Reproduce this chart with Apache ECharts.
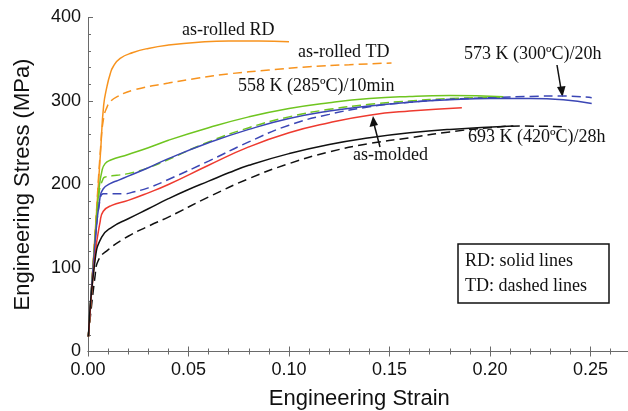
<!DOCTYPE html>
<html><head><meta charset="utf-8">
<script src="https://cdn.jsdelivr.net/npm/echarts@6/dist/echarts.min.js"></script>
<style>html,body{margin:0;padding:0;background:#fff}#c{width:628px;height:411px}</style>
</head><body><div id="c"></div>
<script>
// strain, stress (MPa)
var rolledRD = [[0.0002,18],[0.0035,140],[0.0063,241],[0.0078,295],[0.0095,318],[0.011,332],[0.0125,341],[0.016,351],[0.0224,358],[0.03,363],[0.04,367],[0.055,370.5],[0.07,372],[0.085,372],[0.1,371]];
var rolledTD = [[0.0002,18],[0.0035,140],[0.0063,245],[0.0078,280],[0.0095,293],[0.011,299],[0.0143,305],[0.0225,313],[0.04,321.5],[0.055,327.5],[0.07,332.5],[0.09,337],[0.11,341],[0.13,343.5],[0.151,345.5]];
var k558RD = [[0.0002,18],[0.0035,135],[0.0055,195],[0.007,217],[0.0085,225],[0.011,229],[0.02,236],[0.03,244],[0.04,253],[0.06,268],[0.08,281],[0.10,291],[0.12,298],[0.14,303],[0.16,305.5],[0.18,306.5],[0.2066,305]];
var k558TD = [[0.0002,18],[0.0035,135],[0.0055,190],[0.0075,207],[0.0085,209],[0.0143,211],[0.02,213],[0.03,220],[0.04,230],[0.06,251],[0.08,268],[0.10,281],[0.12,290],[0.14,296],[0.16,300],[0.18,303],[0.205,304.5]];
var k573RD = [[0.0002,18],[0.0035,130],[0.006,185],[0.0076,195],[0.011,201],[0.015,205],[0.02,210],[0.03,220],[0.04,231],[0.06,250],[0.08,266],[0.10,279],[0.12,288],[0.14,294],[0.16,298.5],[0.18,301.5],[0.20,303],[0.22,303],[0.2365,301.5],[0.2506,297]];
var k573TD = [[0.0002,18],[0.0035,130],[0.006,182],[0.0076,189],[0.012,189],[0.0184,189],[0.0225,191],[0.03,196],[0.04,206],[0.06,228],[0.08,251],[0.10,271],[0.12,284],[0.14,293],[0.16,298.5],[0.18,302],[0.20,304],[0.22,305.5],[0.2365,306],[0.2506,304]];
var moldedRD = [[0.0002,18],[0.0035,115],[0.006,155],[0.0076,168],[0.0118,175],[0.02,181],[0.03,190],[0.04,200],[0.06,223],[0.08,245],[0.10,262],[0.12,274],[0.14,283],[0.16,288],[0.186,292]];
var k693RD = [[0.0002,18],[0.0035,109],[0.0068,137],[0.012,149],[0.02,159],[0.03,171],[0.04,183],[0.05,194],[0.06,204],[0.07,214],[0.08,223],[0.10,237],[0.12,248],[0.14,256],[0.16,262],[0.18,266],[0.2116,270]];
var k693TD = [[0.0002,18],[0.0035,90],[0.0051,109],[0.0101,122],[0.02,138],[0.03,150],[0.04,161],[0.06,185],[0.08,207],[0.10,225],[0.12,239],[0.14,249],[0.16,256],[0.18,263],[0.20,268],[0.215,270],[0.2381,269]];
var xTicks = [0, 0.05, 0.10, 0.15, 0.20, 0.25];
var yTicks = [0, 100, 200, 300, 400];

var chart = echarts.init(document.getElementById('c'), null, {renderer:'canvas'});
var serif = 'Liberation Serif';
var sans = 'Liberation Sans';
function line(data, color, dashed){
  return {type:'line', data:data, symbol:'none', smooth:0.5,
    lineStyle:{color:color, width:1.5, type: dashed ? [9,5] : 'solid'}, z: dashed?3:4};
}
var axCol = '#6a6a6a';
var tickCommon = {
  axisTick:{show:true, inside:true, length:5, lineStyle:{color:axCol}},
  minorTick:{show:true, splitNumber:5, length:3, lineStyle:{color:axCol}}
};
var option = {
  animation:false,
  grid:{left:88, top:17.5, width:0.27*2010, height:334, containLabel:false, outerBoundsMode:'none'},
  xAxis:[Object.assign({
    type:'value', min:0, max:0.27, interval:0.05,
    axisLine:{show:true, onZero:false, lineStyle:{color:axCol,width:1}},
    splitLine:{show:false},
    axisLabel:{fontFamily:sans, fontSize:18, color:'#111', margin:10, showMaxLabel:false,
      formatter:function(v){ return xTicks.indexOf(+v.toFixed(2))>=0 ? v.toFixed(2) : ''; }},
    name:'Engineering Strain', nameLocation:'middle', nameGap:36,
    nameTextStyle:{fontFamily:sans, fontSize:22, color:'#111'}
  }, tickCommon), Object.assign({
    type:'value', position:'top', min:0, max:0.27, interval:0.05,
    axisLine:{show:true, lineStyle:{color:axCol,width:1}},
    splitLine:{show:false}, axisLabel:{show:false}
  }, tickCommon)],
  yAxis:Object.assign({
    type:'value', min:0, max:400, interval:100,
    axisLine:{show:true, lineStyle:{color:axCol,width:1}},
    splitLine:{show:false},
    axisLabel:{fontFamily:sans, fontSize:18, color:'#111', margin:7,
      formatter:function(v){ return yTicks.indexOf(v)>=0 ? String(v) : ''; }},
    name:'Engineering Stress (MPa)', nameLocation:'middle', nameGap:54,
    nameTextStyle:{fontFamily:sans, fontSize:22, color:'#111'}
  }, tickCommon),
  series:[
    line(rolledRD,'#f7931e',false), line(rolledTD,'#f7931e',true),
    line(k558RD,'#6fc520',false), line(k558TD,'#6fc520',true),
    line(k573RD,'#3b46b5',false), line(k573TD,'#3b46b5',true),
    line(moldedRD,'#ee3a2f',false),
    line(k693RD,'#111111',false), line(k693TD,'#111111',true)
  ],
  graphic:[
    {type:'text', left:182, top:21, style:{text:'as-rolled RD', font:'18px '+serif, fill:'#111'}},
    {type:'text', left:298, top:43, style:{text:'as-rolled TD', font:'18px '+serif, fill:'#111'}},
    {type:'text', left:238, top:77, style:{text:'558 K (285ºC)/10min', font:'18px '+serif, fill:'#111'}},
    {type:'text', left:464, top:45, style:{text:'573 K (300ºC)/20h', font:'18px '+serif, fill:'#111'}},
    {type:'text', left:468, top:128, style:{text:'693 K (420ºC)/28h', font:'18px '+serif, fill:'#111'}},
    {type:'text', left:353, top:146, style:{text:'as-molded', font:'18px '+serif, fill:'#111'}},
    {type:'line', shape:{x1:380,y1:147,x2:374,y2:124}, style:{stroke:'#111',lineWidth:1.5}},
    {type:'polygon', shape:{points:[[373,116],[369.5,127],[378,125]]}, style:{fill:'#111'}},
    {type:'line', shape:{x1:557,y1:65,x2:561,y2:89}, style:{stroke:'#111',lineWidth:1.5}},
    {type:'polygon', shape:{points:[[562.5,97],[557,87],[565.5,86]]}, style:{fill:'#111'}},
    {type:'rect', shape:{x:458,y:244,width:151,height:59}, style:{fill:'#fff',stroke:'#111',lineWidth:1.5}, z:10},
    {type:'text', left:465, top:252, z:11, style:{text:'RD: solid lines', font:'18px '+serif, fill:'#111'}},
    {type:'text', left:465, top:277, z:11, style:{text:'TD: dashed lines', font:'18px '+serif, fill:'#111'}}
  ]
};
chart.setOption(option);
</script></body></html>
